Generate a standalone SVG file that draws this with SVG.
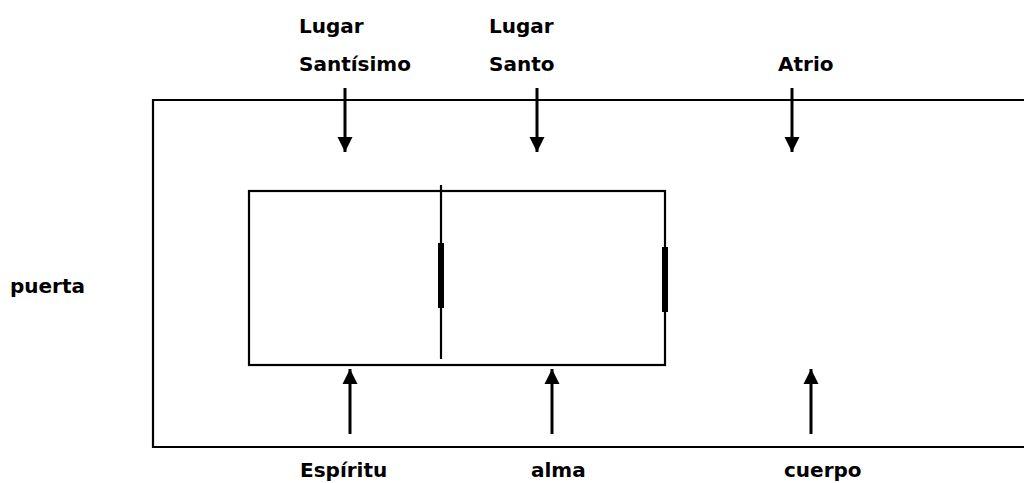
<svg xmlns="http://www.w3.org/2000/svg" width="1024" height="483" viewBox="0 0 1024 483">
<defs>
<style>
.t{font-family:"DejaVu Sans","Liberation Sans",sans-serif;font-weight:bold;font-size:20px;fill:#000}
.ln{stroke:#000;stroke-width:2.2;fill:none}
.ar{stroke:#000;stroke-width:3;fill:none}
.bar{stroke:#000;stroke-width:6}
</style>
<marker id="ah" viewBox="0 0 10 10" refX="10" refY="5" markerWidth="5" markerHeight="5.6" markerUnits="strokeWidth" orient="auto">
<path d="M0,0 L10,5 L0,10 z" fill="#000"/>
</marker>
</defs>
<rect width="1024" height="483" fill="#fff"/>
<g id="outer">
<path class="ln" d="M1024,100 H153 V447 H1024"/>
</g>
<g id="tabernacle">
<rect class="ln" x="249" y="191" width="416" height="174"/>
<line class="ln" x1="441" y1="185" x2="441" y2="359"/>
<line class="bar" x1="441" y1="243" x2="441" y2="308"/>
<line class="bar" x1="665" y1="247" x2="665" y2="312"/>
</g>
<g id="connectors">
<line class="ar" x1="345" y1="88" x2="345" y2="152" marker-end="url(#ah)"/>
<line class="ar" x1="537" y1="88" x2="537" y2="152" marker-end="url(#ah)"/>
<line class="ar" x1="792" y1="88" x2="792" y2="152" marker-end="url(#ah)"/>
<line class="ar" x1="350" y1="434" x2="350" y2="369" marker-end="url(#ah)"/>
<line class="ar" x1="552" y1="434" x2="552" y2="369" marker-end="url(#ah)"/>
<line class="ar" x1="811" y1="434" x2="811" y2="369" marker-end="url(#ah)"/>
</g>
<g id="label-santisimo"><text class="t" x="299" y="33">Lugar</text><text class="t" x="299" y="71">Santísimo</text></g>
<g id="label-santo"><text class="t" x="489" y="33">Lugar</text><text class="t" x="489" y="71">Santo</text></g>
<g id="label-atrio"><text class="t" x="778" y="71">Atrio</text></g>
<g id="label-puerta"><text class="t" x="10" y="293">puerta</text></g>
<g id="label-espiritu"><text class="t" x="300" y="477">Espíritu</text></g>
<g id="label-alma"><text class="t" x="531" y="477">alma</text></g>
<g id="label-cuerpo"><text class="t" x="784" y="477">cuerpo</text></g>
</svg>
